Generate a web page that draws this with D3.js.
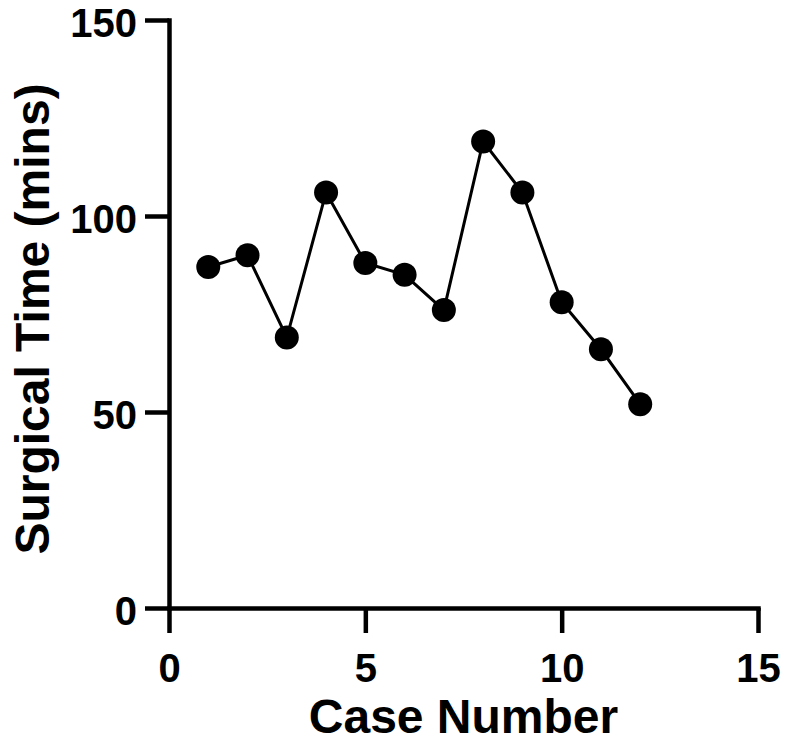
<!DOCTYPE html>
<html>
<head>
<meta charset="utf-8">
<script src="https://cdn.jsdelivr.net/npm/d3@7"></script>
<style>
  body { margin: 0; background: #fff; }
  svg { display: block; }
  .axis text { font-family: 'Liberation Sans', Arial, sans-serif; font-weight: bold; font-size: 40px; fill: #000; }
  .title { font-family: 'Liberation Sans', Arial, sans-serif; font-weight: bold; font-size: 48px; fill: #000; }
</style>
</head>
<body>
<div id="chart"></div>
<script>
var caseNumbers = [1, 2, 3, 4, 5, 6, 7, 8, 9, 10, 11, 12];
var surgicalTimes = [87, 90, 69, 106, 88, 85, 76, 119, 106, 78, 66, 52];
var xTicks = [0, 5, 10, 15];
var yTicks = [0, 50, 100, 150];
var xLabel = 'Case Number';
var yLabel = 'Surgical Time (mins)';

(function () {
  'use strict';

  var width = 786, height = 744;
  var margin = {top: 20, right: 28, bottom: 136, left: 169};

  var svg = d3.select('#chart').append('svg')
    .attr('width', width)
    .attr('height', height);

  var x = d3.scaleLinear().domain([0, 15]).range([margin.left, width - margin.right]);
  var y = d3.scaleLinear().domain([0, 150]).range([height - margin.bottom, margin.top]);

  var points = caseNumbers.map(function (c, i) {
    return {x: c, y: surgicalTimes[i]};
  });

  // axes
  svg.append('g')
    .attr('class', 'axis')
    .attr('transform', 'translate(0,' + y(0) + ')')
    .call(d3.axisBottom(x).tickValues(xTicks).tickSize(25).tickSizeOuter(0).tickPadding(21));

  var yAxis = svg.append('g')
    .attr('class', 'axis')
    .attr('transform', 'translate(' + x(0) + ',0)')
    .call(d3.axisLeft(y).tickValues(yTicks).tickSize(24).tickSizeOuter(0).tickPadding(8));

  svg.selectAll('.axis path, .axis line')
    .attr('stroke', '#000')
    .attr('stroke-width', 4.5);
  svg.selectAll('.axis path')
    .attr('stroke-linecap', 'square');

  yAxis.selectAll('text').attr('dy', '0.42em');

  // line + markers
  var line = d3.line()
    .x(function (d) { return x(d.x); })
    .y(function (d) { return y(d.y); });

  svg.append('path')
    .datum(points)
    .attr('d', line)
    .attr('fill', 'none')
    .attr('stroke', '#000')
    .attr('stroke-width', 3);

  svg.selectAll('circle.pt')
    .data(points)
    .enter().append('circle')
    .attr('class', 'pt')
    .attr('cx', function (d) { return x(d.x); })
    .attr('cy', function (d) { return y(d.y); })
    .attr('r', 12)
    .attr('fill', '#000');

  // titles
  svg.append('text')
    .attr('class', 'title')
    .attr('x', (x(0) + x(15)) / 2)
    .attr('y', 733)
    .attr('text-anchor', 'middle')
    .text(xLabel);

  svg.append('text')
    .attr('class', 'title')
    .attr('transform', 'translate(49,' + (y(75) + 5) + ') rotate(-90)')
    .attr('text-anchor', 'middle')
    .text(yLabel);
})();
</script>
</body>
</html>
